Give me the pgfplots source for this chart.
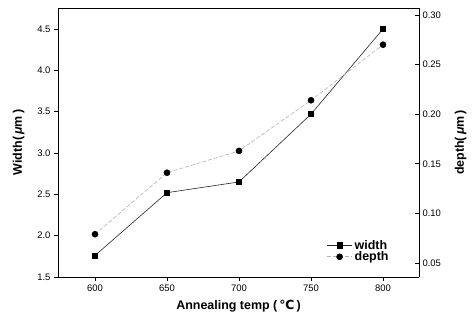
\documentclass[border=0pt]{standalone}
\usepackage{pgfplots}
\pgfplotsset{compat=1.18}
\usepackage{fontspec}
\setmainfont{Liberation Sans}
\newfontfamily\djv{DejaVu Sans}
\begin{document}
\begin{tikzpicture}[x=1bp,y=1bp]
\pgfplotsset{
  every axis/.style={
    at={(0bp,0bp)}, anchor=south west,
    scale only axis, width=361bp, height=269bp,
    xmin=574.3, xmax=825,
    tick label style={font=\fontsize{9.5}{10}\selectfont},
    /pgf/number format/assume math mode=true,
    major tick length=4bp,
    tick style={black, line width=0.7pt},
    axis line style={line width=0.9pt},
  }
}
\begin{axis}[
  axis y line*=left, axis x line*=box,
  ymin=1.5, ymax=4.754,
  xtick={600,650,700,750,800},
  ytick={1.5,2.0,2.5,3.0,3.5,4.0,4.5},
  yticklabel style={/pgf/number format/fixed,/pgf/number format/fixed zerofill,/pgf/number format/precision=1},
  tick align=outside,
  xtick pos=bottom,
  xlabel={\bfseries Annealing temp (\,{\djv\bfseries ℃}\,)},
  ylabel={\bfseries Width(\,{\itshape μ}m\,)},
  label style={font=\fontsize{12.5}{14}\selectfont},
  xlabel style={yshift=-2bp},
  ylabel style={yshift=6bp},
]
\addplot[black!85, line width=0.6pt, mark=square*, mark size=2.6pt, mark options={black}] coordinates {
 (600,1.76) (650,2.52) (700,2.65) (750,3.47) (800,4.50)};
\end{axis}
\begin{axis}[
  axis y line*=right, axis x line=none,
  ymin=0.0359, ymax=0.307,
  ytick={0.05,0.10,0.15,0.20,0.25,0.30},
  yticklabel style={/pgf/number format/fixed,/pgf/number format/fixed zerofill,/pgf/number format/precision=2},
  tick align=inside,
  ylabel={\bfseries depth(\,{\itshape μ}m\,)},
  label style={font=\fontsize{12.5}{14}\selectfont},
  ylabel style={yshift=-7bp},
  legend style={draw=none, fill=none, at={(0.93,0.04)}, anchor=south east,
    font=\bfseries\fontsize{12.5}{14}\selectfont, row sep=-3bp},
  legend cell align=left,
  legend image code/.code={
    \draw[#1] (0cm,0cm) -- (0.9cm,0cm);
    \draw[#1, mark repeat=1] plot coordinates {(0.45cm,0cm)};
  },
]
\addlegendimage{black!85, line width=0.6pt, mark=square*, mark size=2.6pt, mark options={black}}
\addlegendentry{width}
\addplot[black!30, line width=0.6pt, dash pattern=on 4pt off 2pt, mark=*, mark size=3pt, mark options={solid, fill=black, draw=black}] coordinates {
 (600,0.079) (650,0.141) (700,0.163) (750,0.214) (800,0.270)};
\addlegendentry{depth}
\end{axis}
\useasboundingbox (-58bp,-45bp) rectangle (417bp,277bp);
\end{tikzpicture}
\end{document}
